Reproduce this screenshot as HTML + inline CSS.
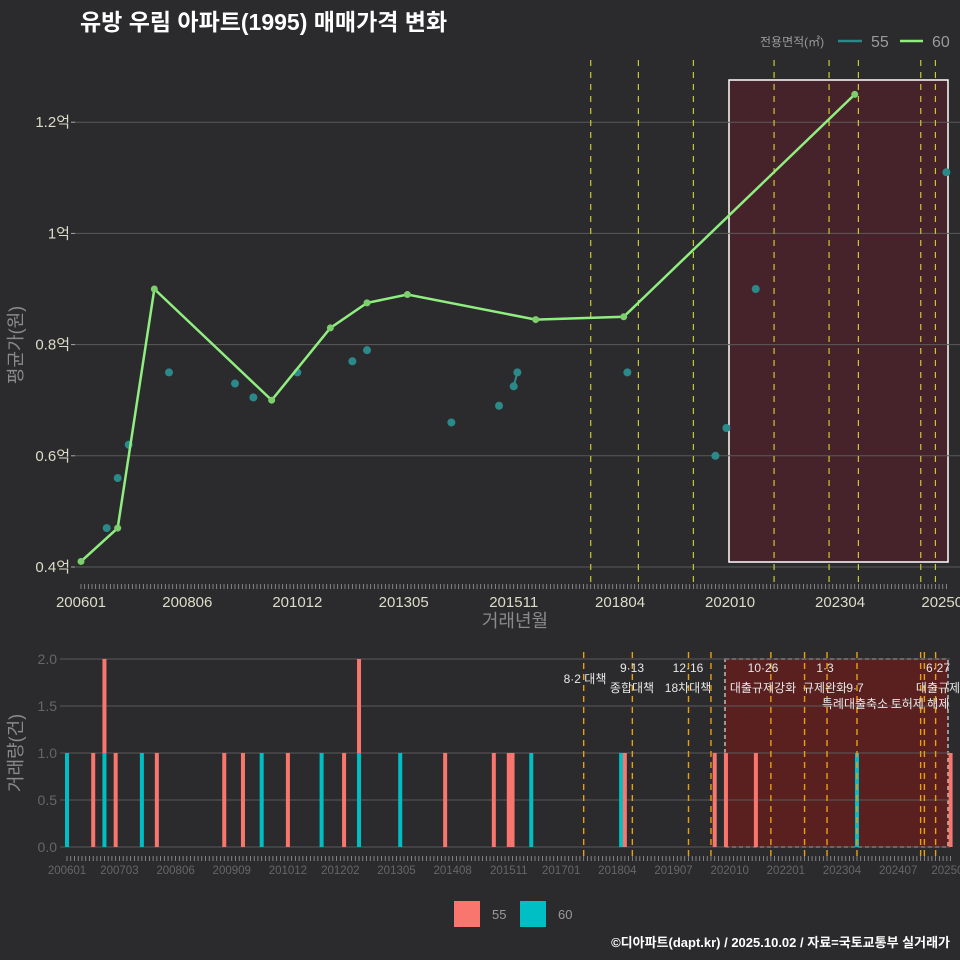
<!DOCTYPE html>
<html><head><meta charset="utf-8">
<style>
html,body{margin:0;padding:0;background:#2b2b2d;}
svg{display:block;font-family:"Liberation Sans","Noto Sans CJK KR",sans-serif;}
</style></head>
<body>
<svg id="c" width="960" height="960" viewBox="0 0 960 960" xmlns="http://www.w3.org/2000/svg">
<rect x="0" y="0" width="960" height="960" fill="#2b2b2d"/>
<text x="80" y="30" fill="#ffffff" font-size="23" font-weight="bold">유방 우림 아파트(1995) 매매가격 변화</text>
<text x="760" y="46" fill="#9a9a9a" font-size="12">전용면적(㎡)</text>
<line x1="838" y1="41" x2="862" y2="41" stroke="#2a8a8a" stroke-width="2.5"/>
<text x="871" y="47" fill="#9a9a9a" font-size="16">55</text>
<line x1="900" y1="41" x2="923" y2="41" stroke="#90ee80" stroke-width="2.5"/>
<text x="932" y="47" fill="#9a9a9a" font-size="16">60</text>
<g id="topPanel"></g>
<g id="botPanel"></g>
<text transform="translate(22,345) rotate(-90)" text-anchor="middle" fill="#8a8a8a" font-size="18">평균가(원)</text>
<text x="515" y="627" text-anchor="middle" fill="#8a8a8a" font-size="18">거래년월</text>
<text transform="translate(22,753) rotate(-90)" text-anchor="middle" fill="#8a8a8a" font-size="18">거래량(건)</text>
<rect x="454" y="901" width="26" height="26" fill="#f8766d"/>
<text x="492" y="919" fill="#9a9a9a" font-size="13">55</text>
<rect x="520" y="901" width="26" height="26" fill="#00bfc4"/>
<text x="558" y="919" fill="#9a9a9a" font-size="13">60</text>
<text x="950" y="947" text-anchor="end" fill="#ffffff" font-size="13" font-weight="bold">©디아파트(dapt.kr) / 2025.10.02 / 자료=국토교통부 실거래가</text>
</svg>
<script>
// months since 2006-01
const m60 = [0,10,20,52,68,78,89,124,148,211];
const v60 = [0.41,0.47,0.90,0.70,0.83,0.875,0.89,0.845,0.85,1.25];
const m55 = [7,10,13,24,42,47,59,74,78,101,114,118,119,149,173,176,184,236];
const v55 = [0.47,0.56,0.62,0.75,0.73,0.705,0.75,0.77,0.79,0.66,0.69,0.725,0.75,0.75,0.60,0.65,0.90,1.11];
const volMonths60 = [0,10,20,52,68,78,89,124,148,211];
const volCounts60 = [1,1,1,1,1,1,1,1,1,1];
const volMonths55 = [7,10,13,24,42,47,59,74,78,101,114,118,119,149,173,176,184,236];
const volCounts55 = [1,1,1,1,1,1,1,1,1,1,1,1,1,1,1,1,1,1];
const priceTicks = [0.4,0.6,0.8,1.0,1.2];
const priceTickLabels = ["0.4억","0.6억","0.8억","1억","1.2억"];
const volTicks = [0,0.5,1,1.5,2];
const volTickLabels = ["0.0","0.5","1.0","1.5","2.0"];
const topXMonths = [0,29,59,88,118,147,177,207,236];
const topXLabels = ["200601","200806","201012","201305","201511","201804","202010","202304","202509"];
const botXMonths = [0,14,29,44,59,73,88,103,118,132,147,162,177,192,207,222,236];
const botXLabels = ["200601","200703","200806","200909","201012","201202","201305","201408","201511","201701","201804","201907","202010","202201","202304","202407","202509"];
const policyTop = [139,152,167,189,204,212,229,233];
const policyBot = [138,151,166,172,188,197,203,211,228,229,232];
const totalMonths = 237;

const NS = "http://www.w3.org/2000/svg";
function mk(tag, attrs, parent){const e=document.createElementNS(NS,tag);for(const k in attrs)e.setAttribute(k,attrs[k]);parent.appendChild(e);return e;}
const topG = document.getElementById('topPanel'), botG = document.getElementById('botPanel');

const tx = m => 81 + 3.667*m;
const ty = v => 567 - (v-0.4)*556;
const hl = mk('rect',{x:729,y:80,width:219,height:482,fill:'#46232a',stroke:'#ffffff','stroke-width':1.5},topG);


priceTicks.forEach((t,i)=>{
  const g = mk('line',{x1:75,x2:960,y1:ty(t),y2:ty(t),stroke:'#5a5a5a','stroke-width':1},topG);
  
  
  const tk = mk('line',{x1:71,x2:75,y1:ty(t),y2:ty(t),stroke:'#aaaaaa','stroke-width':1},topG);
  
  
  const l = mk('text',{x:70,y:ty(t)+5,'text-anchor':'end',fill:'#dcdcc8','font-size':15},topG);
  l.textContent = priceTickLabels[i];
  
  
});
for(let m=0;m<totalMonths;m++){
  const t = mk('line',{x1:tx(m),x2:tx(m),y1:584,y2:589,stroke:'#999','stroke-width':0.8},topG);
  
  
}
topXMonths.forEach((m,i)=>{
  const l = mk('text',{x:tx(m),y:607,'text-anchor':'middle',fill:'#dcdcc8','font-size':15},topG);
  l.textContent = topXLabels[i];
  
  
});
policyTop.forEach(m=>{
  const l = mk('line',{x1:tx(m),x2:tx(m),y1:60,y2:585,stroke:'#c8c832','stroke-width':1.2,'stroke-dasharray':'6,6'},topG);
  
  
});
for(let i=1;i<m55.length;i++){
  if(m55[i]-m55[i-1]<=1){
    const s = mk('line',{x1:tx(m55[i-1]),y1:ty(v55[i-1]),x2:tx(m55[i]),y2:ty(v55[i]),stroke:'#2a8a8a','stroke-width':2},topG);
    
    
  }
}
m55.forEach((m,i)=>{
  const c = mk('circle',{cx:tx(m),cy:ty(v55[i]),r:4,fill:'#2a8a8a'},topG);
  
  
});
const pl = mk('polyline',{points:m60.map((m,i)=>tx(m)+','+ty(v60[i])).join(' '),fill:'none',stroke:'#90ee80','stroke-width':2.5},topG);


m60.forEach((m,i)=>{
  const c = mk('circle',{cx:tx(m),cy:ty(v60[i]),r:3.5,fill:'#7ccf6c'},topG);
  
  
});

const bx = m => 67 + 3.744*m;
const by = v => 847 - v*94;
const hb = mk('rect',{x:725,y:659,width:223,height:188,fill:'#5a2020',stroke:'#bbbbbb','stroke-width':1.5,'stroke-dasharray':'4,3'},botG);


volTicks.forEach((t,i)=>{
  const g = mk('line',{x1:60,x2:950,y1:by(t),y2:by(t),stroke:'#5a5a5a','stroke-width':1},botG);
  
  
  const l = mk('text',{x:57,y:by(t)+5,'text-anchor':'end',fill:'#666','font-size':14},botG);
  l.textContent = volTickLabels[i];
  
  
});
for(let m=0;m<totalMonths;m++){
  const t = mk('line',{x1:bx(m),x2:bx(m),y1:856,y2:861,stroke:'#999','stroke-width':0.8},botG);
  
  
}
botXMonths.forEach((m,i)=>{
  const l = mk('text',{x:bx(m),y:874,'text-anchor':'middle',fill:'#666','font-size':11.5},botG);
  l.textContent = botXLabels[i];
  
  
});
const baseCounts = {};
volMonths60.forEach((m,i)=>{
  const b = mk('rect',{x:bx(m)-2,y:by(volCounts60[i]),width:4,height:by(0)-by(volCounts60[i]),fill:'#00bfc4'},botG);
  
  
  baseCounts[m]=volCounts60[i];
});
volMonths55.forEach((m,i)=>{
  const b0 = baseCounts[m]||0;
  const b = mk('rect',{x:bx(m)-2,y:by(b0+volCounts55[i]),width:4,height:by(b0)-by(b0+volCounts55[i]),fill:'#f8766d'},botG);
  
  
});
policyBot.forEach(m=>{
  const l = mk('line',{x1:bx(m),x2:bx(m),y1:652,y2:856,stroke:'#e8a010','stroke-width':1.4,'stroke-dasharray':'6,5'},botG);
  
  
});
const notes = [
  [585,683,'8·2 대책'],[632,672,'9·13'],[632,692,'종합대책'],[688,672,'12·16'],[688,692,'18차대책'],
  [763,672,'10·26'],[763,692,'대출규제강화'],[825,672,'1·3'],[825,692,'규제완화'],[855,692,'9·7'],
  [855,708,'특례대출축소'],[920,708,'토허제 해제'],[938,672,'6·27'],[938,692,'대출규제']
];
notes.forEach(n=>{
  const t = mk('text',{x:n[0],y:n[1],'text-anchor':'middle',fill:'#e8e8e8','font-size':12},botG);
  t.textContent = n[2];
  
  
});
</script>
</body></html>
